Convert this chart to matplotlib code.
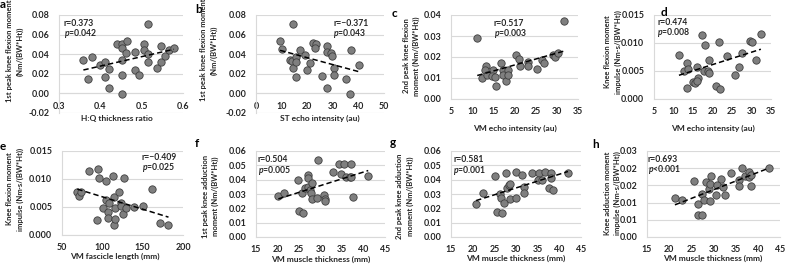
import matplotlib
matplotlib.use("Agg")
import matplotlib.pyplot as plt
import numpy as np

plt.rcParams['font.family'] = ['Lato', 'DejaVu Sans']
plt.rcParams['mathtext.fontset'] = 'custom'
plt.rcParams['mathtext.it'] = 'Lato:italic:bold'
plt.rcParams['mathtext.rm'] = 'Lato:bold'

# ---------------- data ----------------
a_x = [0.359, 0.371, 0.381, 0.399, 0.411, 0.411, 0.422, 0.422, 0.440, 0.452, 0.452, 0.464, 0.463, 0.452, 0.452,
       0.452, 0.484, 0.484, 0.493, 0.505, 0.505, 0.515, 0.515, 0.515, 0.536, 0.546, 0.546, 0.556, 0.566, 0.578]
a_y = [0.034, 0.015, 0.037, 0.029, 0.032, 0.017, 0.025, 0.006, 0.050, 0.050, 0.046, 0.053, 0.041, 0.034, 0.019,
       -0.001, 0.042, 0.024, 0.019, 0.050, 0.044, 0.0705, 0.040, 0.032, 0.026, 0.048, 0.032, 0.038, 0.044, 0.046]

b_x = [9.4, 10.3, 14.5, 13.2, 14.2, 14.5, 15.8, 15.5, 15.8, 17.1, 19.1, 21.0, 20.1, 22.3, 23.6, 23.2, 25.6,
       27.8, 27.8, 27.8, 29.2, 29.7, 30.4, 30.5, 35.3, 37.0, 36.9, 40.1]
b_y = [0.053, 0.045, 0.0705, 0.0345, 0.033, 0.026, 0.037, 0.032, 0.017, 0.044, 0.039, 0.0315, 0.024, 0.0515,
       0.050, 0.046, 0.018, 0.048, 0.042, 0.006, 0.041, 0.038, 0.026, 0.0185, 0.015, 0.044, -0.001, 0.029]

c_x = [11.2, 12.3, 13.3, 13.1, 13.5, 14.9, 14.6, 15.4, 15.6, 16.8, 17.2, 17.2, 18.0, 18.4, 18.4, 20.3, 21.1,
       21.4, 23.3, 23.3, 25.3, 26.5, 26.9, 29.2, 29.5, 30.3, 31.6]
c_y = [0.0289, 0.0100, 0.0159, 0.0136, 0.0115, 0.0136, 0.0110, 0.0103, 0.0060, 0.0171, 0.0139, 0.0115, 0.0084,
       0.0139, 0.0115, 0.0210, 0.0190, 0.0155, 0.0175, 0.0155, 0.0144, 0.0187, 0.0171, 0.0210, 0.0200, 0.0219, 0.0373]

d_x = [11.4, 12.7, 13.4, 13.6, 13.4, 15.1, 15.5, 16.2, 16.1, 16.1, 17.4, 18.1, 17.8, 18.8, 19.1, 19.2, 20.9,
       21.9, 21.6, 23.8, 25.8, 26.9, 27.5, 29.7, 30.2, 31.1, 32.4]
d_y = [0.0079, 0.0050, 0.0064, 0.0053, 0.0020, 0.0031, 0.0028, 0.0037, 0.0033, 0.0058, 0.0115, 0.0096, 0.0050,
       0.0050, 0.0069, 0.0047, 0.0023, 0.0018, 0.0101, 0.0076, 0.0042, 0.0057, 0.0083, 0.0104, 0.0101, 0.0070, 0.0116]

e_x = [69, 71, 74, 83, 95, 96, 94, 105, 101, 104, 107, 107, 108, 113, 114, 116, 115, 116, 121, 123, 123, 127,
       125, 129, 139, 150, 161, 171, 182]
e_y = [0.0077, 0.0069, 0.0077, 0.0114, 0.0117, 0.0102, 0.0027, 0.0096, 0.0048, 0.0063, 0.0041, 0.0031, 0.0058,
       0.0105, 0.0068, 0.0048, 0.0017, 0.0029, 0.0076, 0.0058, 0.0052, 0.0102, 0.0037, 0.0049, 0.0050, 0.0051,
       0.0082, 0.0022, 0.0018]

f_x = [20.2, 21.6, 24.7, 25.1, 26.0, 25.6, 26.4, 27.2, 27.2, 27.0, 27.6, 28.0, 27.8, 28.0, 29.5, 29.3, 30.7,
       31.1, 31.0, 32.8, 34.3, 34.7, 35.5, 35.9, 36.9, 37.2, 37.2, 37.6, 41.1]
f_y = [0.0284, 0.0309, 0.0400, 0.0181, 0.0167, 0.0309, 0.0340, 0.0347, 0.0433, 0.0412, 0.0326, 0.0379, 0.0309,
       0.0267, 0.0535, 0.0272, 0.0290, 0.0267, 0.0251, 0.0451, 0.0507, 0.0440, 0.0512, 0.0421, 0.0421, 0.0512,
       0.0421, 0.0279, 0.0426]

g_x = [20.8, 22.4, 25.2, 25.6, 26.8, 26.2, 26.6, 27.2, 27.6, 27.9, 28.3, 28.5, 28.6, 30.1, 30.0, 31.3, 31.8,
       31.8, 33.6, 35.2, 35.0, 36.0, 36.6, 37.5, 38.0, 38.0, 38.5, 42.0]
g_y = [0.0228, 0.0309, 0.0423, 0.0174, 0.0167, 0.0300, 0.0272, 0.0237, 0.0449, 0.0344, 0.0360, 0.0370, 0.0265,
       0.0451, 0.0270, 0.0435, 0.0349, 0.0307, 0.0449, 0.0449, 0.0400, 0.0395, 0.0456, 0.0342, 0.0449, 0.0412,
       0.0330, 0.0449]

h_x = [21.3, 22.9, 25.7, 26.6, 26.6, 27.4, 27.4, 27.8, 28.3, 28.9, 29.1, 29.4, 29.1, 30.5, 30.7, 31.8, 32.2,
       32.5, 34.0, 35.7, 35.7, 36.5, 37.1, 38.0, 38.0, 38.4, 38.5, 42.5]
h_y = [0.0113, 0.0108, 0.0163, 0.0095, 0.0063, 0.0063, 0.0126, 0.0108, 0.0160, 0.0140, 0.0155, 0.0177, 0.0106,
       0.0123, 0.0152, 0.0170, 0.0144, 0.0121, 0.0185, 0.0167, 0.0147, 0.0202, 0.0178, 0.0190, 0.0175, 0.0180,
       0.0147, 0.0202]

h_yticklabels = ["0.00", "0.01", "0.01", "0.02", "0.02", "0.03"]

letters = ["a", "b", "c", "d", "e", "f", "g", "h"]
r_texts = ["r=0.373", "r=\u22120.371", "r=0.517", "r=0.474", "r=\u22120.409", "r=0.504", "r=0.581", "r=0.693"]
p_texts = ["=0.042", "=0.043", "=0.003", "=0.008", "=0.025", "=0.005", "=0.001", "<0.001"]
xlabels = ["H:Q thickness ratio", "ST echo intensity (au)", "VM echo intensity (au)", "VM echo intensity (au)",
           "VM fascicle length (mm)", "VM muscle thickness (mm)", "VM muscle thickness (mm)",
           "VM muscle thickness (mm)"]
ylabels = ["1st peak knee flexion moment\n(Nm/(BW*Ht))",
           "1st peak knee flexion moment\n(Nm/(BW*Ht))",
           "2nd peak knee flexion\nmoment (Nm/(BW*Ht))",
           "Knee flexion moment\nimpulse (Nm-s/(BW*Ht))",
           "Knee flexion moment\nimpulse (Nm\u00b7s/(BW*Ht))",
           "1st peak knee adduction\nmoment (Nm/(BW*Ht))",
           "2nd peak knee adduction\nmoment (Nm/(BW*Ht))",
           "Knee adduction moment\nimpulse (Nm-s/(BW*Ht))"]

xs = [a_x, b_x, c_x, d_x, e_x, f_x, g_x, h_x]
ys = [a_y, b_y, c_y, d_y, e_y, f_y, g_y, h_y]

# ---------------- layout (pixels) ----------------
W, H = 786, 265
boxes = [(59, 183, 15, 113), (256, 384, 15, 113), (451, 578, 15, 99), (654, 771, 15, 99),
         (62, 183, 151, 235), (256, 385, 151, 237), (451, 581, 151, 237), (647, 780, 151, 237)]
xlims = [(0.3, 0.6), (0, 50), (5, 35), (5, 35), (50, 200), (15, 45), (15, 45), (15, 45)]
xsteps = [0.1, 10, 5, 5, 50, 5, 5, 5]
ylims = [(-0.02, 0.08), (-0.02, 0.08), (0, 0.04), (0, 0.015), (0, 0.015), (0, 0.06), (0, 0.06), (0, 0.025)]
ysteps = [0.02, 0.02, 0.01, 0.005, 0.005, 0.01, 0.01, 0.005]
yfmt = ["%.2f", "%.2f", "%.2f", "%.3f", "%.3f", "%.2f", "%.2f", None]
xfmt = ["%.1f", "%.0f", "%.0f", "%.0f", "%.0f", "%.0f", "%.0f", "%.0f"]

letter_pos = [(0, 8), (195, 13), (392, 17), (661, 16.5), (0, 150), (195, 147), (390, 146), (592, 148)]
r_pos = [(64, 24), (333, 23), (494, 23), (657, 22.5), (142, 157.5), (258, 160), (453, 160), (648, 160)]
p_pos = [(64, 33.5), (333, 33), (494, 34), (657, 32.5), (142, 168), (258, 170.5), (453, 170.5), (648, 170)]
xlabel_pos = [(117, 118), (320, 118), (515, 128), (713, 128), (115, 256), (321, 259), (516, 258), (713, 258)]
ylabel_pos = [(15, 51), (209, 50), (411.5, 56), (613, 52), (15, 189), (210.5, 196), (405, 196), (612.5, 193)]

TXT = '#262626'
GRID = '#d9d9d9'
fig = plt.figure(figsize=(W / 100, H / 100), dpi=100)


def fx(px):
    return px / W


def fy(py):
    return 1 - py / H


for i in range(8):
    l, r, t, b = boxes[i]
    ax = fig.add_axes([fx(l), fy(b), (r - l) / W, (b - t) / H])
    ax.set_xlim(*xlims[i])
    ax.set_ylim(*ylims[i])
    xt = np.arange(xlims[i][0], xlims[i][1] + xsteps[i] / 2, xsteps[i])
    yt = np.arange(ylims[i][0], ylims[i][1] + ysteps[i] / 2, ysteps[i])
    ax.set_xticks(xt)
    ax.set_yticks(yt)
    ax.set_xticklabels([xfmt[i] % v for v in xt])
    if yfmt[i] is None:
        ax.set_yticklabels(h_yticklabels)
    else:
        labs = []
        for v in yt:
            s = yfmt[i] % (0.0 if abs(v) < 1e-12 else v)
            labs.append(s)
        ax.set_yticklabels(labs)
    for s in ['top', 'right']:
        ax.spines[s].set_visible(False)
    ax.spines['left'].set_color(GRID)
    ax.spines['bottom'].set_color(GRID)
    ax.spines['left'].set_linewidth(0.8)
    ax.spines['bottom'].set_linewidth(0.8)
    ax.spines['bottom'].set_position(('data', 0))
    ax.grid(axis='y', color=GRID, linewidth=0.8)
    ax.set_axisbelow(True)
    ax.tick_params(length=0, labelsize=6.4, colors=TXT)
    ax.tick_params(axis='x', pad=6)
    ax.tick_params(axis='y', pad=7)
    for lab in ax.get_xticklabels() + ax.get_yticklabels():
        lab.set_fontweight('bold')

    x = np.array(xs[i])
    y = np.array(ys[i])
    ax.scatter(x, y, s=28, facecolor='#7f7f7f', edgecolor='#3f3f3f', linewidth=0.6, zorder=3, clip_on=False)
    k, c0 = np.polyfit(x, y, 1)
    xx = np.array([x.min(), x.max()])
    ax.plot(xx, k * xx + c0, color='black', linewidth=1.1, linestyle=(0, (3.5, 2)), zorder=4)

    fig.text(fx(letter_pos[i][0]), fy(letter_pos[i][1]), letters[i], fontsize=8.5, fontweight='bold',
             color='black', ha='left', va='baseline')
    fig.text(fx(r_pos[i][0]), fy(r_pos[i][1]), r_texts[i], fontsize=6.2, fontweight='bold', color=TXT,
             ha='left', va='center')
    fig.text(fx(p_pos[i][0]), fy(p_pos[i][1]), r'$p$' + p_texts[i], fontsize=6.2, fontweight='bold',
             color=TXT, ha='left', va='center')
    fig.text(fx(xlabel_pos[i][0]), fy(xlabel_pos[i][1]), xlabels[i], fontsize=6.0, fontweight='bold',
             color=TXT, ha='center', va='center')
    fig.text(fx(ylabel_pos[i][0]), fy(ylabel_pos[i][1]), ylabels[i], fontsize=5.5, fontweight='bold',
             color=TXT, ha='center', va='center', rotation=90, multialignment='center', linespacing=1.5)

fig.savefig('out.png', dpi=100)
